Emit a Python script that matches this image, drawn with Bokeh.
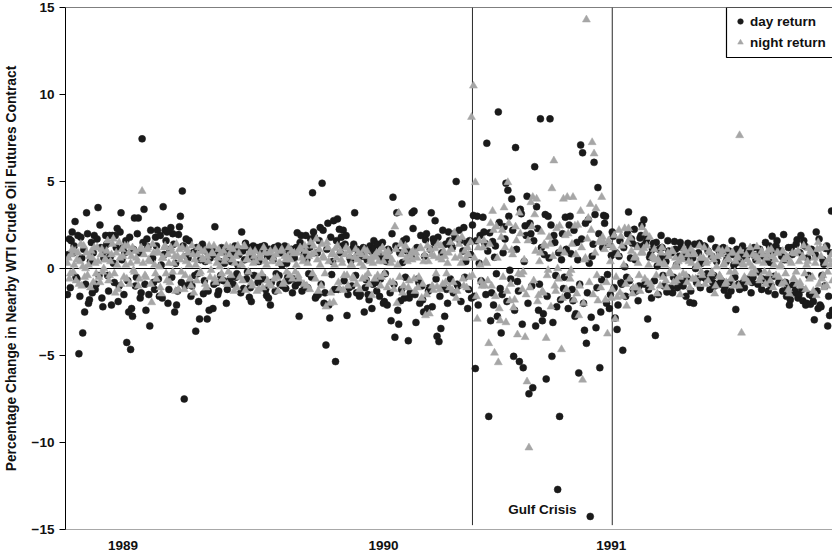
from bokeh.plotting import figure
from bokeh.models import Range1d, FixedTicker, Span, Legend, LegendItem, BoxAnnotation
from bokeh.core.properties import value
from bokeh.embed import file_html
from bokeh.resources import INLINE

# Daily returns (%) on the nearby WTI crude oil futures contract.
# Observations are stored as two alternating halves (even / odd trading days).
day_even = [
    -1.5, 1.7, 1.6, 0.9, 2.7, -0.6, -4.9, 1.8, -3.7, -2.5, 3.2, -2.0, 0.4, -1.4, 1.9, -0.9, 3.5, 2.5, -1.7, 0.6,
    1.9, -0.4, 1.9, -2.1, 0.3, 1.9, 2.3, -1.0, 3.2, 1.2, 0.9, -4.25, -2.5, -4.65, -2.75, 2.9, -0.5, 2.9, -1.7, 7.45,
    3.4, -2.4, 1.25, -3.3, 0.5, -0.8, 1.8, 2.2, -1.6, 0.2, 3.55, 2.2, 2.1, -1.2, 2.35, 2.0, -2.5, -2.1, 1.95, 3.0,
    4.45, -7.5, 1.7, 0.6, -0.8, -1.0, 0.9, -3.6, -0.3, -2.9, 1.2, -1.45, 0.4, -2.9, -2.4, 0.9, -2.3, 2.4, -0.8, -1.3,
    -0.4, 1.0, 0.3, -2.0, 0.8, -0.6, 0.9, 1.0, -0.5, 0.2, 1.1, 2.1, -1.15, 1.45, -0.2, -1.65, -1.9, 1.3, 0.5, 1.2,
    0.4, 1.25, -0.5, 1.3, -1.55, -1.7, -2.1, 0.6, 1.2, -0.3, 1.3, -0.9, 0.2, 1.1, -1.15, -0.5, 0.9, 1.1, -0.6, -1.0,
    2.05, -2.75, 1.9, 1.15, -1.0, 0.5, -0.3, 1.7, 4.35, 1.8, -1.6, -1.5, 2.35, 4.9, -2.0, -4.4, 2.6, -2.85, -0.35, 2.75,
    -5.35, 2.85, 2.25, 1.8, 2.2, 1.4, -2.7, -1.1, 0.45, 1.15, 3.2, -1.4, 0.85, -1.5, 0.7, -2.5, -0.65, -1.5, 1.3, -2.3,
    1.6, -0.8, 1.4, -1.6, 0.6, -2.0, -0.3, -2.1, 1.0, -3.0, 4.1, -3.95, 3.2, -3.2, -1.85, 0.35, -1.7, 1.7, -4.15, -1.4,
    3.2, 3.3, -3.1, -0.6, -2.0, -1.0, -2.5, 1.65, -2.3, -1.1, 3.2, 1.7, 2.75, -3.9, -4.2, -3.45, 2.2, -2.75, -1.2, 2.1,
    -0.6, 1.2, 2.0, 5.0, -1.0, 1.6, 3.7, 2.35, 0.4, -2.3, 1.6, -1.7, 3.05, -5.75, 3.0, 0.3, -0.7, 2.95, 1.45, 7.2,
    -8.5, -3.0, 1.55, 0.65, -0.3, 9.0, -1.15, -1.5, 2.4, 4.9, 4.5, -0.1, 4.0, -5.05, 6.95, -0.75, -5.35, 3.15, -5.7, 2.45,
    4.15, -7.2, 2.0, -6.85, 5.85, 3.55, -2.4, 8.6, -3.0, 0.8, -6.35, 3.0, 8.6, -5.05, 1.9, -0.4, -12.7, -8.5, 0.5, -1.15,
    2.95, -1.55, 2.5, 0.85, -1.85, -2.75, 1.5, -6.0, 7.1, 6.65, -3.55, -4.3, 2.8, -14.25, 0.7, 6.1, -3.4, 4.65, -5.7, -0.65,
    3.05, 3.0, -0.35, -2.3, 0.75, 1.85, -2.85, -3.5, 0.7, -0.8, -4.7, 0.1, -0.5, 3.25, 0.6, 1.45, 2.25, -1.3, -1.85, 1.75,
    2.5, 2.8, 1.45, -2.9, 0.65, -1.7, 1.45, -3.85, 0.15, 1.1, 1.9, -0.4, 0.65, -1.35, 1.0, -1.1, -1.4, 1.55, 0.2, -0.65,
    1.5, -0.8, 0.6, -1.6, 1.45, -1.95, 0.7, -2.0, 0.0, -0.6, 1.45, 0.3, -0.5, 1.25, -0.3, -0.6, 1.7, -0.8, -1.0, 0.4,
    1.1, -0.9, 1.0, -1.25, 0.4, -1.55, -0.8, 1.6, 0.2, -2.35, 0.35, -1.2, 0.7, -0.8, 0.8, 1.0, 0.85, -1.4, -0.5, 0.7,
    0.75, -0.2, 0.85, -0.6, -0.7, 0.5, -1.3, 0.35, 1.85, -0.45, 1.3, 1.05, -0.8, 0.7, 1.95, -0.8, -1.05, -2.1, 1.2, -0.95,
    -1.3, 1.65, -1.5, 1.9, -1.85, 1.3, -2.0, -0.4, -2.05, -1.6, -2.95, 2.1, -2.3, -2.1, -0.4, 0.25, 1.15, -3.3, -2.7, 3.3,
]
day_odd = [
    0.8, -1.1, 2.1, 1.3, -0.5, 1.9, -1.6, 0.6, 1.1, -0.9, 2.0, -1.8, 1.5, 0.9, -1.2, 1.7, -0.4, 1.2, -2.2, 1.0,
    1.4, -1.3, 0.7, 1.9, -0.8, 1.2, -1.9, 2.1, 0.5, -1.5, 1.6, -0.7, 1.8, -2.3, 1.1, -1.0, 2.0, 0.9, -1.4, 1.5,
    -0.9, 1.7, -1.5, 2.2, 0.6, -1.2, 1.3, -0.6, 1.9, -1.7, 0.8, 1.6, -2.0, 1.1, -0.5, 1.4, 0.3, -1.3, 2.4, -0.8,
    1.3, -1.0, 0.7, 1.6, -1.6, 0.9, -0.4, 1.2, -1.9, 0.5, 1.4, -0.7, 1.0, -1.3, 0.6, 1.1, -0.9, 0.8, -1.5, 0.4,
    1.2, -0.7, 0.9, -1.2, 1.1, 0.4, -0.9, 1.3, -0.3, 0.8, -1.4, 1.0, 0.5, -0.6, 1.2, -1.1, 0.7, -0.4, 1.1, -0.8,
    1.0, -0.6, 1.3, -1.2, 0.7, 1.1, -0.8, 0.5, -1.3, 1.2, -0.4, 0.9, -1.0, 1.3, 0.3, -0.7, 1.0, -1.4, 0.6, 1.2,
    -0.8, 1.5, -1.3, 0.8, 1.9, -1.1, 1.2, -0.5, 2.1, -1.7, 0.9, 1.6, -0.9, 2.2, -1.4, 1.1, -2.1, 1.8, 0.4, -1.2,
    1.6, -1.2, 0.9, 1.3, -0.7, 1.9, -1.5, 0.6, -1.0, 1.4, -0.4, 1.1, -1.6, 0.8, 1.2, -1.1, 0.5, -1.8, 1.0, -0.9,
    1.2, -1.3, 0.8, -0.6, 1.5, -1.9, 0.4, 1.1, -1.4, 2.0, -0.9, 1.3, -2.4, 0.9, -1.2, 1.6, -0.5, 1.0, -1.7, 0.7,
    2.3, -1.5, 1.2, -0.8, 1.9, -1.8, 0.7, 2.0, -1.3, 1.1, -2.2, 1.5, -0.6, 1.8, -1.6, 0.9, -1.1, 1.4, -2.0, 1.6,
    1.3, -1.4, 1.8, -0.9, 2.2, -1.9, 1.0, -0.5, 1.5, -1.2, 0.8, 2.5, -1.6, 1.6, -2.1, 1.9, -0.8, 2.1, -1.5, 1.0,
    2.05, -1.4, -2.1, 1.3, -2.75, 2.65, -3.7, 0.9, 1.7, -1.9, 3.0, -0.6, 2.2, -2.4, 1.1, -1.3, 3.4, -3.2, 0.4, 1.9,
    -2.0, 2.6, -1.0, 1.6, -3.3, 2.3, -0.9, 1.2, -2.6, 3.1, -1.6, 0.6, 2.5, -3.1, 1.5, -2.2, 0.9, -1.8, 2.0, -0.5,
    1.1, -2.3, 3.0, -1.2, 2.2, -2.6, 0.5, -0.9, 1.7, -2.0, 2.6, -1.4, 0.3, -2.8, 1.4, 3.1, -1.1, 2.0, -2.5, 1.2,
    2.6, -2.0, 1.4, -1.5, 2.1, -1.1, 0.9, -2.1, 1.6, -0.9, 1.2, -1.6, 2.0, -0.7, 1.7, -1.2, 0.5, 1.3, -1.0, 1.9,
    1.3, -0.9, 1.7, -1.2, 0.8, 1.1, -0.7, 1.5, -1.5, 0.6, 1.2, -1.0, 0.4, 1.6, -1.3, 0.9, -0.5, 1.1, -1.1, 0.7,
    1.2, -1.0, 0.8, -0.5, 1.1, -1.3, 0.6, 1.4, -0.8, 0.9, -1.1, 0.5, 1.3, -0.6, 1.0, -1.2, 0.7, -0.4, 1.2, -0.9,
    0.9, -0.7, 1.2, -1.0, 0.6, 1.0, -1.3, 0.8, -0.5, 1.1, -0.9, 0.4, 1.3, -1.1, 0.7, -0.6, 1.0, -0.8, 1.2, 0.5,
    -0.9, 1.1, -1.2, 0.7, 1.5, -0.6, 1.3, -1.0, 0.9, -1.5, 1.6, -0.8, 1.0, -1.3, 0.5, -1.6, 1.2, -1.8, 0.8, -1.4,
    1.4, -1.7, 0.9, -1.2, 1.6, -2.1, 0.6, -1.5, 1.1, -1.9, 0.8, -1.3, 1.7, -2.2, 0.5, -1.0, 1.3, -1.6, 0.9, -2.4,
]

night_even = [
    0.3, -0.6, 0.8, -0.2, 1.0, 0.5, -0.9, 1.4, 0.1, -0.5, 0.9, 0.2, -1.1, 0.6, 1.2, -0.3, 0.4, -0.8, 1.1, 0.0,
    0.5, 1.6, -0.4, 0.8, 1.7, -1.4, 0.2, 1.5, -0.9, 0.7, 1.3, -0.6, 0.9, 0.3, 1.2, -0.2, 0.6, -1.0, 1.1, 4.45,
    0.8, -0.5, 1.2, 0.4, -1.95, 0.9, -0.3, 1.0, 0.1, -1.45, 0.6, 1.3, -0.7, 0.3, 1.2, -0.2, 0.7, 1.4, -1.2, 0.5,
    1.2, -1.2, 0.4, 0.9, -0.6, 1.3, -1.4, 0.2, 0.8, -0.3, 1.0, 0.5, -0.9, 0.7, 1.3, -0.1, 0.85, -0.6, 0.3, 1.1,
    0.85, -0.6, 0.4, 1.3, -0.2, 1.2, 0.5, -1.3, 0.7, 1.3, -0.5, 0.2, 1.25, -1.25, 0.5, 0.9, -0.8, 0.3, 1.0, -1.3,
    -1.2, 0.6, -1.1, 0.9, 0.2, -0.9, 1.0, 0.4, -0.6, 0.8, -1.3, 0.3, 1.1, -0.8, 0.5, 0.7, -0.4, 1.0, 0.85, -0.2,
    0.9, -0.6, 1.1, 0.4, 1.3, -1.0, 0.7, 1.5, -0.3, 0.9, 1.7, -1.3, 0.2, 1.4, 0.6, -2.2, 1.2, -2.0, 0.8, -1.95,
    1.15, 1.3, -1.15, 0.5, -1.25, 0.8, -0.4, 1.0, 0.2, -0.5, 0.65, -0.9, 0.9, 0.3, -0.6, 1.1, 0.7, -0.3, 0.4, -1.55,
    0.65, 0.7, -0.4, 1.0, -0.5, 0.4, 0.9, -1.1, 0.7, 0.3, -0.8, 2.4, -2.0, 3.2, 1.4, -1.4, 1.05, 0.6, -1.1, 0.7,
    0.5, -0.6, 0.9, -1.1, 1.15, -1.7, 0.4, -2.7, 1.3, -2.6, 0.8, -1.25, 1.15, -1.05, 0.6, 1.3, -0.9, 0.7, -0.3, 0.9,
    1.5, -1.25, 2.05, -1.7, 1.7, 0.7, 1.8, -1.0, 0.6, 1.2, -0.5, 8.7, 10.5, 4.95, -2.9, 1.6, -0.75, 1.2, -1.0, 0.3,
    -4.3, 2.6, 3.3, -4.85, 2.4, -5.4, -3.0, 2.2, 3.5, -3.1, 4.95, -1.85, 1.05, -2.25, 2.4, -3.8, 3.2, -0.35, -0.2, -3.95,
    -6.5, -10.3, 3.8, 4.1, 3.1, 4.0, -1.55, 0.9, -1.3, 1.4, -4.0, -0.1, 1.4, 4.6, 6.2, -1.3, 0.0, 2.45, -4.65, 4.0,
    1.9, 4.1, -0.3, -0.1, 4.1, 2.45, -1.45, -2.7, 3.3, -6.4, 0.5, 14.3, 2.9, 3.7, 7.25, 6.6, 3.45, -1.85, 1.6, 4.1,
    1.5, -1.8, -3.75, 1.35, -1.7, 1.2, -2.9, -1.65, 2.2, 1.85, -1.6, 2.3, -2.15, 2.3, 1.75, -1.45, 0.6, -1.1, 0.3, -1.3,
    2.35, 1.15, 2.05, -0.8, 1.8, -1.1, 0.6, 0.5, -1.45, 0.3, 0.9, -0.5, 0.2, -1.1, 0.7, -0.3, 1.0, 0.1, -0.7, 0.4,
    -1.5, 0.5, 1.15, -0.4, 0.8, -1.1, 0.3, 0.9, -0.6, 0.2, 1.3, -0.2, 0.6, -0.9, 0.4, 1.0, -0.3, 0.7, -1.45, 0.1,
    1.1, -0.5, 1.0, 0.3, -0.8, 0.6, -0.2, 0.9, -1.0, 0.4, 0.7, 7.65, -3.7, 0.2, -0.6, 0.5, 0.3, -0.3, 0.8, -0.1,
    1.25, 0.4, -0.5, 0.8, -0.2, 0.6, 1.05, -0.7, 0.7, 0.2, -0.4, 0.9, 0.1, -0.9, 0.5, -0.3, 0.6, -1.45, 0.3, -0.6,
    0.85, -0.9, 0.4, -1.0, 0.7, -0.3, 0.2, 1.15, 1.0, -0.5, 0.6, -1.55, 1.5, 1.15, -0.6, -1.1, 0.3, -0.2, 0.5, 0.8,
]
night_odd = [
    0.6, -0.3, 1.1, 0.2, -0.7, 0.9, 0.4, -1.0, 1.3, 0.0, -0.4, 0.7, 1.0, -0.8, 0.3, 1.2, -0.5, 0.8, -0.2, 0.5,
    1.0, -0.7, 0.4, 1.4, -0.3, 0.9, -1.2, 0.6, 1.1, -0.5, 0.2, 1.3, -0.9, 0.7, -0.1, 1.0, 0.4, -0.6, 1.2, 0.3,
    -0.4, 1.1, 0.5, -0.9, 1.4, 0.2, -0.6, 0.9, -1.1, 0.6, 1.2, -0.3, 0.8, -0.8, 1.0, 0.3, -1.3, 0.7, 1.1, -0.2,
    0.7, -0.4, 1.1, 0.2, -1.0, 0.8, 0.5, -0.7, 1.2, -0.2, 0.6, 1.0, -1.1, 0.4, -0.5, 0.9, 1.3, -0.8, 0.6, 0.1,
    -0.3, 1.0, 0.6, -0.9, 0.8, -0.4, 1.1, 0.3, -1.1, 0.9, 0.2, -0.7, 1.3, 0.5, -0.2, 1.0, -1.0, 0.7, 0.4, -0.5,
    0.8, -0.3, 1.2, 0.4, -0.7, 0.9, -1.0, 0.6, 1.1, -0.5, 0.3, 1.0, -0.9, 0.7, -0.2, 1.2, 0.5, -0.6, 0.9, 0.2,
    -0.4, 1.2, 0.6, -0.9, 1.0, 0.3, -1.2, 0.8, 1.3, -0.6, 0.5, 1.1, -1.0, 0.7, -0.3, 1.5, 0.4, -1.4, 0.9, 0.2,
    0.6, -0.8, 1.0, 0.3, -0.4, 1.2, -1.0, 0.7, 0.2, -0.6, 1.1, 0.5, -1.2, 0.8, 0.1, -0.5, 1.0, -0.9, 0.6, 0.3,
    -0.6, 0.9, 0.4, -1.0, 1.2, -0.3, 0.7, 1.0, -0.8, 0.5, -1.2, 1.1, 0.2, -0.5, 0.8, -1.0, 1.3, 0.4, -0.7, 0.9,
    1.0, -1.3, 0.6, -0.5, 1.2, -0.9, 0.8, -1.5, 0.4, 1.1, -1.0, 0.7, -0.3, 1.4, -1.2, 0.5, 1.0, -0.8, 0.3, -1.1,
    1.1, -0.8, 0.6, -1.3, 1.4, 0.3, -0.6, 1.0, -1.1, 0.8, 1.5, -0.4, 0.6, -1.6, 1.2, 0.2, -1.0, 1.6, 0.4, -0.7,
    1.4, -1.0, 2.2, -1.6, 0.6, -2.3, 1.8, -0.5, 1.2, -1.3, 2.6, -0.9, 0.8, -1.8, 1.6, -0.3, 2.0, -1.2, 0.5, -1.5,
    1.6, -1.1, 2.4, -0.7, 1.0, -1.9, 0.4, 2.1, -1.4, 1.3, -0.4, 1.8, -2.2, 0.7, -1.0, 2.3, -0.6, 1.1, -1.7, 0.9,
    -1.2, 2.0, -0.6, 1.4, -1.8, 0.8, 2.5, -1.0, 1.2, -2.0, 0.6, 1.7, -0.8, 2.2, -1.5, 0.9, -0.4, 1.5, -1.1, 1.8,
    1.1, -0.8, 1.6, 0.4, -1.2, 1.9, -0.5, 0.8, -1.4, 1.3, 0.2, -0.9, 1.5, -0.6, 1.0, -1.1, 0.7, 1.2, -0.4, 0.9,
    0.9, -0.6, 1.3, 0.2, -0.9, 0.7, 1.1, -0.4, 0.5, -1.0, 1.2, 0.3, -0.7, 0.9, -0.2, 1.0, -0.8, 0.6, 0.1, -0.5,
    0.7, -0.3, 1.0, -0.8, 0.4, 1.1, -0.6, 0.8, 0.1, -0.9, 0.6, -0.4, 1.2, 0.3, -0.7, 0.9, -0.2, 0.5, -1.0, 0.7,
    -0.4, 0.8, 0.2, -0.9, 1.1, 0.5, -0.6, 0.9, -0.2, 0.6, -1.0, 1.0, 0.3, -0.5, 0.8, -0.8, 1.2, 0.1, -0.3, 0.7,
    0.6, -0.7, 1.0, 0.3, -0.9, 0.8, -0.3, 1.1, -1.1, 0.5, 0.9, -0.5, 0.2, 1.0, -0.8, 0.7, -1.2, 0.4, 0.9, -0.6,
    -0.2, 1.0, -0.8, 0.6, 1.3, -1.2, 0.4, -0.6, 0.9, -1.3, 0.3, 1.1, -0.9, 0.7, -0.4, 1.2, -1.0, 0.5, 0.2, -0.7,
]

year_labels = ["1989", "1990", "1991"]
year_first_obs = [58, 330, 568]          # observation index where each year begins
gulf_crisis_bounds = [423, 569]          # start / end of the Gulf Crisis window (obs index)
gulf_label = "Gulf Crisis"
gulf_label_y = -13.85
gulf_line_bottom = -14.75
y_ticks = [-15, -10, -5, 0, 5, 10, 15]
y_limits = [-15, 15]
series_names = ["day return", "night return"]
y_title = "Percentage Change in Nearby WTI Crude Oil Futures Contract"

# assemble the full daily series (even/odd trading days alternate)
day_return = [v for pair in zip(day_even, day_odd) for v in pair]
night_return = [v for pair in zip(night_even, night_odd) for v in pair]
obs = list(range(len(day_return)))

FONT = "Liberation Sans"
TXT = "#111111"

FRAME_TOP, AXIS_BOTTOM, HEIGHT = 7, 24, 553
frame_h = HEIGHT - FRAME_TOP - AXIS_BOTTOM

p = figure(width=832, height=HEIGHT, output_backend="svg", toolbar_location=None,
           x_range=Range1d(-2, len(day_return) - 1),
           y_range=Range1d(y_limits[0], y_limits[1]),
           min_border_left=63, min_border_right=0, min_border_top=FRAME_TOP,
           min_border_bottom=AXIS_BOTTOM)
p.outline_line_color = None
p.grid.visible = False
p.background_fill_color = "white"
p.border_fill_color = "white"

# zero line and top border
p.add_layout(Span(location=0, dimension="width", line_color="black", line_width=1, level="underlay"))
p.add_layout(Span(location=y_limits[1], dimension="width", line_color="black", line_width=1))

# Gulf Crisis window
p.segment(x0=gulf_crisis_bounds, y0=[gulf_line_bottom] * 2, x1=gulf_crisis_bounds,
          y1=[y_limits[1]] * 2, line_color="#2a2a2a", line_width=1)

r_day = p.scatter(obs, day_return, marker="circle", size=7,
                  fill_color="#1a1a1a", line_color="#1a1a1a", line_width=0.5)
r_night = p.scatter(obs, night_return, marker="triangle", size=8,
                    fill_color="#a6a6a6", line_color="#a6a6a6", line_width=0.5)

p.text(x=[sum(gulf_crisis_bounds) / 2], y=[gulf_label_y], text=[gulf_label],
       text_align="center", text_baseline="middle", text_font=value(FONT),
       text_font_style="bold", text_font_size="13.5px", text_color=TXT)

# y axis
ya = p.yaxis[0]
ya.ticker = FixedTicker(ticks=y_ticks)
ya.major_tick_out = 6
ya.major_tick_in = 0
ya.minor_tick_line_color = None
ya.axis_line_color = "black"
ya.major_tick_line_color = "black"
ya.major_label_standoff = 5
ya.major_label_text_font = FONT
ya.major_label_text_font_style = "bold"
ya.major_label_text_font_size = "13.5px"
ya.major_label_text_color = TXT
ya.axis_label = y_title
ya.axis_label_text_font = FONT
ya.axis_label_text_font_style = "bold"
ya.axis_label_text_font_size = "13.8px"
ya.axis_label_text_color = TXT
ya.axis_label_standoff = 10

# x axis
xa = p.xaxis[0]
xa.ticker = FixedTicker(ticks=year_first_obs)
xa.major_label_overrides = dict(zip(year_first_obs, year_labels))
xa.major_tick_line_color = None
xa.minor_tick_line_color = None
xa.axis_line_color = "#a8a8a8"
xa.major_label_standoff = 5
xa.major_label_text_font = FONT
xa.major_label_text_font_style = "bold"
xa.major_label_text_font_size = "13.5px"
xa.major_label_text_color = TXT

LEG_X, LEG_W = 662, 130
legend_h = 2 * 20 + 1 + 2 * 4

# legend frame drawn explicitly (frame-relative screen units), white inside
p.add_layout(BoxAnnotation(left=LEG_X - 1, right=LEG_X + LEG_W,
                           bottom=frame_h - legend_h - 1, top=frame_h,
                           left_units="screen", right_units="screen",
                           bottom_units="screen", top_units="screen",
                           fill_color="white", fill_alpha=1.0,
                           line_color="black", line_width=1.2,
                           line_alpha=1.0, level="overlay"))

legend = Legend(items=[LegendItem(label=series_names[0], renderers=[r_day]),
                       LegendItem(label=series_names[1], renderers=[r_night])],
                location=(LEG_X + 1, frame_h - legend_h), margin=0, padding=4, spacing=1,
                glyph_width=16, glyph_height=14, label_standoff=2,
                label_height=20, label_width=90,
                label_text_font=FONT, label_text_font_style="bold",
                label_text_font_size="13.5px", label_text_color=TXT,
                border_line_alpha=0.0,
                background_fill_alpha=0.0)
legend.level = "overlay"
p.add_layout(legend)

open("out.html", "w").write(file_html(p, INLINE))
